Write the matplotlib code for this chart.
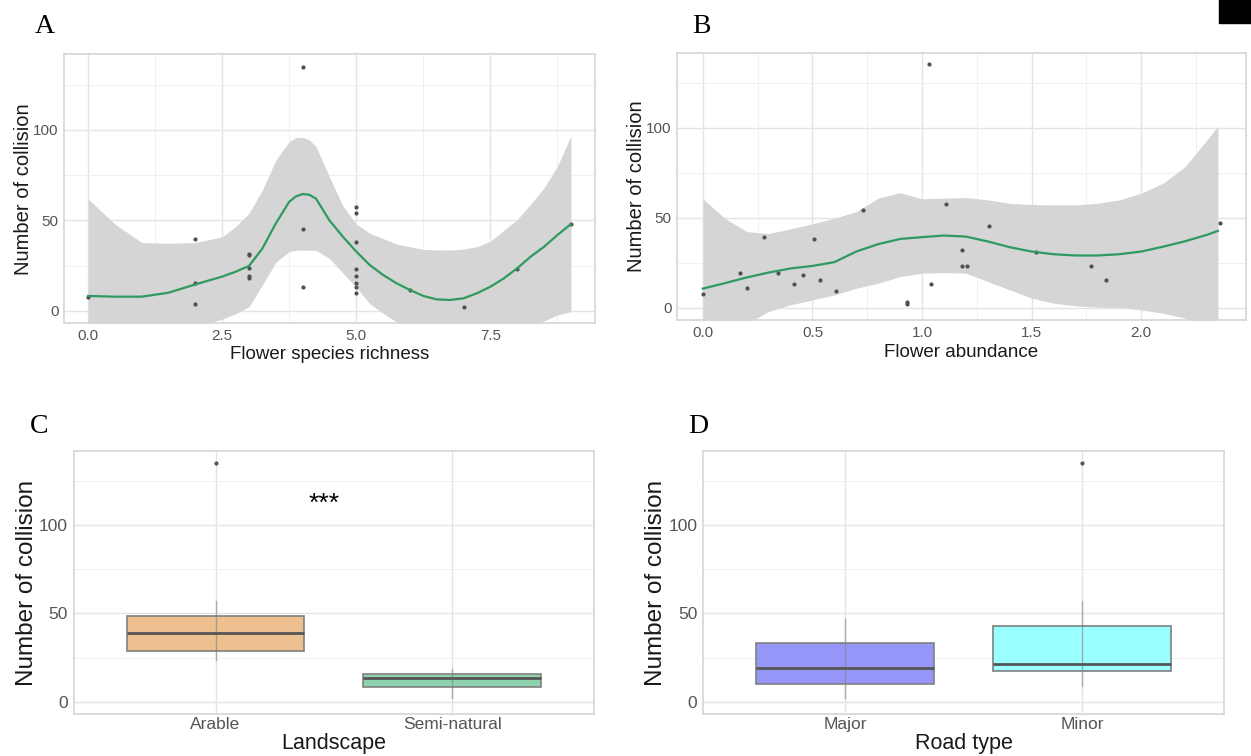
import matplotlib
matplotlib.use("Agg")
import matplotlib.pyplot as plt
from matplotlib.patches import Rectangle
from matplotlib.ticker import FixedLocator, FormatStrFormatter

plt.rcParams['font.family'] = ['Liberation Sans', 'DejaVu Sans']

# ---- panel A: flower species richness ----
rich_x = [0, 2, 2, 2, 3, 3, 3, 3, 3, 4, 4, 4, 5, 5, 5, 5, 5, 5, 5, 5, 6, 7, 8, 9]
rich_y = [7.5, 39.6, 15.3, 3.7, 31.7, 30.9, 23.6, 19.3, 18, 134.6, 45.1, 13.4,
          57.6, 54.3, 38.3, 23.2, 19.3, 15.3, 13.4, 9.8, 11.6, 2.4, 23.2, 48]
rich_sm_x = [0, 0.5, 1, 1.5, 2, 2.5, 2.75, 3, 3.25, 3.5, 3.75, 3.875, 4, 4.125, 4.25,
             4.5, 4.75, 5, 5.25, 5.5, 5.75, 6, 6.25, 6.5, 6.75, 7, 7.25, 7.5, 7.75,
             8, 8.25, 8.5, 8.75, 9]
rich_fit = [8.3, 7.9, 7.9, 10.1, 14.7, 19.0, 21.7, 24.9, 34.6, 48.4, 60.4, 63.3, 64.6,
            64.2, 62.0, 50.0, 41.0, 32.8, 25.4, 19.9, 15.3, 11.6, 8.3, 6.4, 6.1, 7.0,
            9.8, 13.4, 18.0, 23.6, 30.0, 35.5, 42.0, 48.0]
rich_hi = [61.9, 48, 37.8, 37.4, 37.8, 41, 46.6, 54, 66.9, 83.4, 93.6, 95.8, 96, 94.5,
           90.8, 74, 58, 48, 43, 40, 37, 35.5, 34, 33.7, 33.7, 34.2, 35.5, 38.5, 44.6,
           50.5, 59, 68, 80, 96.7]
rich_lo = [-45, -32, -22, -17, -9, -4.5, -1.5, 2.4, 14.4, 27, 32.8, 33.5, 33.7, 33.5,
           33.5, 29, 21, 13, 4, -1.3, -6, -12, -17, -20, -21, -20, -18, -14, -11, -9,
           -8, -5.5, -2.2, -0.4]

# ---- panel B: flower abundance ----
abun_x = [0, 0.17, 0.2, 0.279, 0.344, 0.418, 0.459, 0.505, 0.533, 0.608, 0.732, 0.932,
          0.932, 1.03, 1.039, 1.108, 1.182, 1.182, 1.205, 1.305, 1.52, 1.77, 1.84, 2.36]
abun_y = [7.6, 19.6, 11.3, 39.4, 19.6, 13.5, 18.3, 38.3, 15.6, 9.4, 54.4, 3.0, 2.2,
          135.6, 13.5, 57.6, 32.2, 23.3, 23.3, 45.6, 31.1, 23.3, 15.4, 47.4]
abun_sm_x = [0, 0.1, 0.2, 0.3, 0.4, 0.5, 0.6, 0.7, 0.8, 0.9, 1.0, 1.1, 1.2, 1.3, 1.4,
             1.5, 1.6, 1.7, 1.8, 1.9, 2.0, 2.1, 2.2, 2.3, 2.35]
abun_fit = [10.7, 13.7, 16.9, 19.6, 21.9, 23.3, 25.4, 31.3, 35.4, 38.3, 39.3, 40.2, 39.6,
            36.9, 33.7, 31.3, 29.8, 29.1, 29.1, 29.8, 31.3, 34.0, 37.0, 40.6, 42.8]
abun_hi = [60.6, 49.8, 42.4, 41.3, 43.9, 46.7, 49.8, 53.5, 61.0, 64.0, 60.6, 61.0, 61.3,
           60.0, 58.1, 57.4, 57.2, 57.2, 58.1, 60.0, 63.7, 69.3, 78.5, 93.3, 101]
abun_lo = [-39, -22, -8.6, -2.0, 1.7, 4.4, 7.2, 10.9, 13.7, 17.4, 19.3, 19.6, 19.3, 14.6,
           10.0, 5.4, 2.6, 1.1, 0.4, 0.2, -1.1, -3.0, -5.7, -12, -15]

# ---- panel C / D: boxplots (whislo, q1, median, q3, whishi) ----
land_names = ['Arable', 'Semi-natural']
land_stats = [[23.7, 28.9, 38.9, 48.5, 57], [2.4, 8.6, 13.3, 16, 18.8]]
land_out = [[135], []]
land_cols = ['#EEC08F', '#8FD3AE']

road_names = ['Major', 'Minor']
road_stats = [[2.4, 10.2, 19.2, 33.6, 47], [9, 17.5, 21.4, 42.7, 57]]
road_out = [[], [135]]
road_cols = ['#9696F8', '#99FFFF']

W, H = 1251, 756
fig = plt.figure(figsize=(W / 100, H / 100), dpi=100)


def px_axes(l, t, r, b):
    return fig.add_axes([l / W, 1 - b / H, (r - l) / W, (b - t) / H])


def style(ax, fs):
    for s in ax.spines.values():
        s.set_color('#D6D6D6')
        s.set_linewidth(1.2)
    ax.tick_params(which='both', length=0, labelsize=fs, labelcolor='#555555', pad=4)
    ax.grid(which='major', color='#E4E4E4', lw=1.0)
    ax.grid(which='minor', color='#F0F0F0', lw=0.7)
    ax.set_axisbelow(True)
    ax.set_ylim(-6.75, 141.75)
    ax.yaxis.set_major_locator(FixedLocator([0, 50, 100]))
    ax.yaxis.set_minor_locator(FixedLocator([25, 75, 125]))


def smooth_panel(ax, px, py, sx, fit, lo, hi):
    ax.fill_between(sx, lo, hi, color='#D5D5D5', lw=0, zorder=2)
    ax.scatter(px, py, s=9, color='#505050', lw=0, zorder=3)
    ax.plot(sx, fit, color='#2E9A60', lw=1.6, zorder=4)


def box_panel(ax, names, stats, outs, cols):
    # whisker drawn as one line; it shows faintly through the box like in ggplot
    for i, st in enumerate(stats):
        ax.plot([i + 1, i + 1], [st[0], st[4]], color='#808080', lw=1.0, alpha=0.6, zorder=4)
    bx = []
    for st, fl in zip(stats, outs):
        bx.append(dict(whislo=st[0], q1=st[1], med=st[2], q3=st[3], whishi=st[4], fliers=fl))
    res = ax.bxp(bx, positions=[1, 2], widths=0.75, patch_artist=True,
                 showcaps=False, zorder=3,
                 whiskerprops=dict(lw=0),
                 medianprops=dict(color='#555555', lw=2.0, zorder=5),
                 flierprops=dict(marker='o', markersize=3, markerfacecolor='#555555',
                                 markeredgecolor='none'))
    for patch, c in zip(res['boxes'], cols):
        patch.set_facecolor(c)
        patch.set_edgecolor('#808080')
        patch.set_linewidth(1.2)
    ax.set_xlim(0.4, 2.6)
    ax.xaxis.set_major_locator(FixedLocator([1, 2]))
    ax.set_xticklabels(names)


# panel A
axA = px_axes(64, 54.4, 595, 323.2)
smooth_panel(axA, rich_x, rich_y, rich_sm_x, rich_fit, rich_lo, rich_hi)
style(axA, 11)
axA.set_xlim(-0.45, 9.45)
axA.xaxis.set_major_locator(FixedLocator([0, 2.5, 5, 7.5]))
axA.xaxis.set_minor_locator(FixedLocator([1.25, 3.75, 6.25, 8.75]))
axA.xaxis.set_major_formatter(FormatStrFormatter('%.1f'))
axA.set_xlabel('Flower species richness', fontsize=13.5, color='#1A1A1A', labelpad=2)
axA.set_ylabel('Number of collision', fontsize=14.5, color='#1A1A1A', labelpad=0)

# panel B
axB = px_axes(677, 52.8, 1246, 320)
smooth_panel(axB, abun_x, abun_y, abun_sm_x, abun_fit, abun_lo, abun_hi)
style(axB, 11)
axB.set_xlim(-0.118, 2.478)
axB.xaxis.set_major_locator(FixedLocator([0, 0.5, 1.0, 1.5, 2.0]))
axB.xaxis.set_minor_locator(FixedLocator([0.25, 0.75, 1.25, 1.75, 2.25]))
axB.xaxis.set_major_formatter(FormatStrFormatter('%.1f'))
axB.set_xlabel('Flower abundance', fontsize=13.5, color='#1A1A1A', labelpad=3)
axB.set_ylabel('Number of collision', fontsize=14.5, color='#1A1A1A', labelpad=0)

# panel C
axC = px_axes(73.6, 451, 594, 714)
box_panel(axC, land_names, land_stats, land_out, land_cols)
style(axC, 12.5)
axC.tick_params(axis='x', pad=2)
axC.text(1.46, 112, '***', fontsize=19, ha='center', va='center', color='black')
axC.set_xlabel('Landscape', fontsize=15.5, color='#1A1A1A', labelpad=1)
axC.set_ylabel('Number of collision', fontsize=17.5, color='#1A1A1A', labelpad=1)

# panel D
axD = px_axes(703, 451, 1224, 714)
box_panel(axD, road_names, road_stats, road_out, road_cols)
style(axD, 12.5)
axD.tick_params(axis='x', pad=2)
axD.set_xlabel('Road type', fontsize=15.5, color='#1A1A1A', labelpad=1)
axD.set_ylabel('Number of collision', fontsize=17.5, color='#1A1A1A', labelpad=1)

# panel letters
for lab, x, y in [('A', 35, 33), ('B', 692, 33), ('C', 30, 433), ('D', 688, 433)]:
    fig.text(x / W, 1 - y / H, lab, fontsize=20, family='Liberation Serif',
             va='baseline', ha='left', color='black')

fig.patches.append(Rectangle((1219 / W, 1 - 23 / H), 32 / W, 23 / H,
                             transform=fig.transFigure, color='black'))

fig.savefig('out.png', dpi=100)
